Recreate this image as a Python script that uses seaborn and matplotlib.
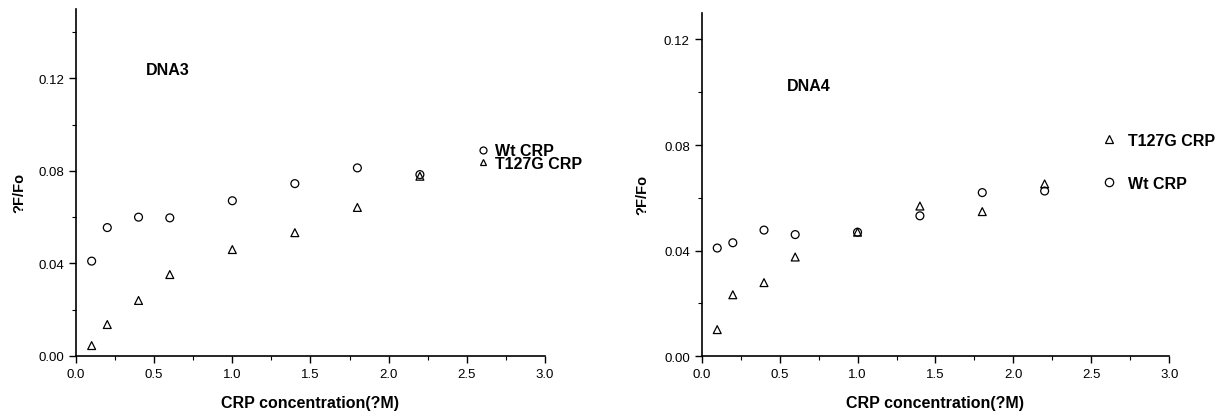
import numpy as np
import pandas as pd
import matplotlib
matplotlib.use("Agg")
import matplotlib.pyplot as plt
import seaborn as sns
from matplotlib.ticker import MultipleLocator, FormatStrFormatter
from matplotlib.lines import Line2D

sns.set_style("ticks")
plt.rcParams['font.family'] = ['Liberation Sans', 'DejaVu Sans']
plt.rcParams['text.color'] = 'black'
plt.rcParams['axes.labelcolor'] = 'black'
plt.rcParams['xtick.color'] = 'black'
plt.rcParams['ytick.color'] = 'black'
plt.rcParams['axes.edgecolor'] = 'black'

conc = [0.1, 0.2, 0.4, 0.6, 1.0, 1.4, 1.8, 2.2]
dna3_wt = [0.041, 0.0555, 0.060, 0.0597, 0.0671, 0.0745, 0.0813, 0.0784]
dna3_t127g = [0.0045, 0.0136, 0.024, 0.0352, 0.046, 0.0533, 0.0642, 0.0777]
dna4_wt = [0.041, 0.043, 0.0478, 0.0461, 0.047, 0.0532, 0.062, 0.0626]
dna4_t127g = [0.0101, 0.0233, 0.0279, 0.0376, 0.047, 0.0569, 0.0548, 0.0653]
series_names = ["Wt CRP", "T127G CRP"]
panel_labels = ["DNA3", "DNA4"]
x_label = "CRP concentration(?M)"
y_label = "?F/Fo"

def long_df(wt, mut):
    return pd.DataFrame({
        "conc": conc * 2,
        "val": wt + mut,
        "series": [series_names[0]] * len(conc) + [series_names[1]] * len(conc),
    })

fig = plt.figure(figsize=(12.26, 4.14), dpi=100)
ax1 = fig.add_axes([0.062, 0.1377, 0.3825, 0.8383])
ax2 = fig.add_axes([0.5723, 0.137, 0.3815, 0.829])

markers = {"Wt CRP": "o", "T127G CRP": "^"}

for ax, (wt, mut), ytop, ylab_xy in [
    (ax1, (dna3_wt, dna3_t127g), 0.15, (-0.105, 0.473)),
    (ax2, (dna4_wt, dna4_t127g), 0.13, (-0.112, 0.473)),
]:
    df = long_df(wt, mut)
    sns.scatterplot(data=df, x="conc", y="val", style="series", markers=markers,
                    ax=ax, s=32, edgecolor="black", linewidth=0.9,
                    color="black", legend=False)
    for coll in ax.collections:
        coll.set_facecolor("none")
        coll.set_edgecolor("black")
    ax.set_xlim(0, 3.0)
    ax.set_ylim(0, ytop)
    ax.xaxis.set_major_locator(MultipleLocator(0.5))
    ax.xaxis.set_minor_locator(MultipleLocator(0.25))
    ax.yaxis.set_major_locator(MultipleLocator(0.04))
    ax.yaxis.set_minor_locator(MultipleLocator(0.02))
    ax.yaxis.set_major_formatter(FormatStrFormatter("%.2f"))
    ax.xaxis.set_major_formatter(FormatStrFormatter("%.1f"))
    ax.tick_params(which="major", length=5, width=1, labelsize=9.5, direction="out")
    ax.tick_params(which="minor", length=3, width=0.8, direction="out")
    for side in ["top", "right"]:
        ax.spines[side].set_visible(False)
    for side in ["left", "bottom"]:
        ax.spines[side].set_linewidth(1.2)
    ax.set_xlabel(x_label, fontsize=11.5, fontweight="bold", labelpad=11)
    ax.set_ylabel(y_label, fontsize=10.5, fontweight="bold")
    ax.yaxis.set_label_coords(*ylab_xy)

ax1.text(0.45, 0.124, panel_labels[0], fontsize=11.5, fontweight="bold", va="center", ha="left")
ax2.text(0.545, 0.1025, panel_labels[1], fontsize=11.5, fontweight="bold", va="center", ha="left")

def handle(m, ms):
    return Line2D([], [], marker=m, linestyle="none", markerfacecolor="none",
                  markeredgecolor="black", markersize=ms, markeredgewidth=0.9)

leg1 = ax1.legend([handle("o", 5), handle("^", 5)], series_names,
                  loc="center left", bbox_to_anchor=(479 / 1226, 1 - 158 / 414),
                  bbox_transform=fig.transFigure, frameon=False,
                  prop={"size": 11.5, "weight": "bold"}, handlelength=0.5,
                  handletextpad=0.5, labelspacing=-0.15, borderpad=0, borderaxespad=0)
leg2 = ax2.legend([handle("^", 6), handle("o", 6)], [series_names[1], series_names[0]],
                  loc="center left", bbox_to_anchor=(1104 / 1226, 1 - 163 / 414),
                  bbox_transform=fig.transFigure, frameon=False,
                  prop={"size": 11.5, "weight": "bold"}, handlelength=0.6,
                  handletextpad=0.9, labelspacing=1.75, borderpad=0, borderaxespad=0)

fig.savefig("out.png", dpi=100)
